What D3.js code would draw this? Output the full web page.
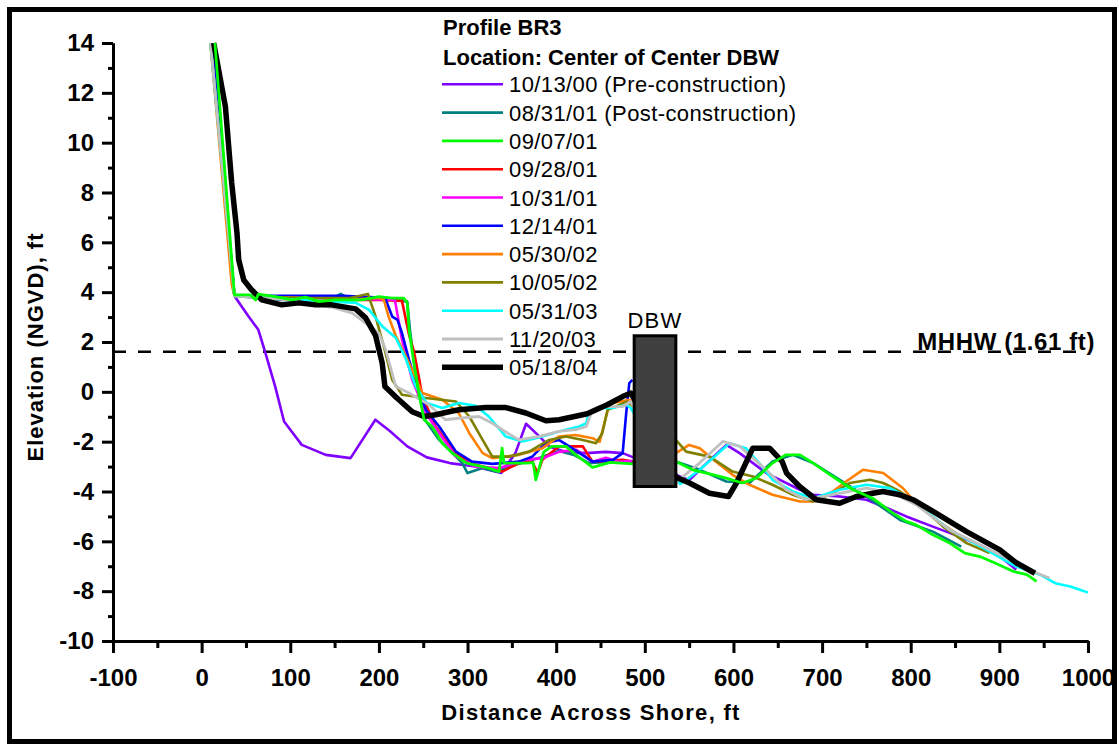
<!DOCTYPE html>
<html>
<head>
<meta charset="utf-8">
<script src="https://cdn.jsdelivr.net/npm/d3@7"></script>
<style>
  html, body { margin: 0; padding: 0; background: #fff; }
  svg { display: block; font-family: "Liberation Sans", Arial, Helvetica, sans-serif; }
</style>
</head>
<body>
<svg id="chart" width="1119" height="746"></svg>
<script>
// ---- Profile BR3 survey data (distance across shore ft, elevation ft NGVD) ----
const surveyDates = [
  "10/13/00 (Pre-construction)",
  "08/31/01 (Post-construction)",
  "09/07/01",
  "09/28/01",
  "10/31/01",
  "12/14/01",
  "05/30/02",
  "10/05/02",
  "05/31/03",
  "11/20/03",
  "05/18/04"
];

const xTicks = [-100, 0, 100, 200, 300, 400, 500, 600, 700, 800, 900, 1000];
const yTicks = [-10, -8, -6, -4, -2, 0, 2, 4, 6, 8, 10, 12, 14];
const mhhwElevation = 1.61;
const dbwDistance = [488, 535];
const dbwElevation = [-3.8, 2.25];

const p101300 = [[12,14],[37,3.85],[53,3.02],[64,2.49],[72,1.55],[83,0.21],[93,-1.19],[113,-2.13],[140,-2.53],[168,-2.66],[196,-1.12],[212,-1.56],[232,-2.19],[254,-2.63],[280,-2.86],[309,-3.0],[338,-3.26],[354,-2.46],[366,-1.28],[381,-1.79],[392,-2.19],[411,-2.41],[434,-2.46],[456,-2.41],[475,-2.46],[485,-2.6],[550,-3.55],[562,-3.13],[576,-2.65],[592,-2.13],[607,-2.46],[637,-3.26],[675,-3.93],[690,-4.13],[720,-4.2],[750,-4.33],[769,-4.6],[795,-5.0],[825,-5.41],[855,-5.81],[882,-6.21],[901,-6.61],[919,-7.14]];

const p083101 = [[12,14],[37,3.85],[90,3.69],[144,3.69],[157,3.93],[168,3.69],[215,3.73],[232,3.62],[235,2.49],[240,1.08],[245,0.0],[252,-1.12],[268,-1.93],[285,-2.53],[294,-2.86],[300,-3.26],[317,-3.06],[332,-3.2],[354,-2.93],[381,-2.65],[403,-2.37],[420,-2.53],[437,-2.86],[460,-2.8],[485,-2.8],[535,-2.8],[562,-3.13],[592,-3.6],[618,-3.66],[644,-2.8],[667,-2.53],[690,-2.86],[720,-3.53],[750,-4.2],[788,-5.14],[825,-5.61],[857,-6.21]];

const p090701 = [[15,14],[37,3.89],[55,3.89],[61,3.69],[64,3.92],[83,3.82],[102,3.69],[117,3.8],[132,3.62],[151,3.69],[181,3.69],[200,3.82],[215,3.76],[228,3.76],[232,3.57],[234,2.49],[239.5,1.15],[245,-0.05],[251,-1.12],[260,-1.39],[271.5,-2.06],[283,-2.46],[299,-2.86],[324,-3.06],[335.6,-3.2],[339,-2.26],[341,-2.86],[366,-2.86],[374,-2.84],[377,-3.53],[386,-2.41],[395,-2.19],[411,-2.19],[421,-2.49],[441,-3.03],[461,-2.83],[486,-2.89],[535,-2.8],[554,-3.13],[573,-3.29],[592,-3.46],[610,-3.66],[626,-3.46],[644,-2.86],[659,-2.53],[675,-2.53],[690,-2.86],[712,-3.4],[735,-3.93],[757,-4.27],[780,-4.87],[795,-5.2],[806,-5.34],[825,-5.74],[844,-6.07],[861,-6.47],[878,-6.61],[895,-6.87],[916,-7.21],[931,-7.34],[942,-7.61]];

const p092801 = [[12,14],[37,3.85],[87,3.77],[143,3.69],[200,3.69],[226,3.65],[234,2.29],[239.5,1.62],[245,0.61],[249,-0.19],[264,-1.39],[283,-2.33],[302,-2.86],[324,-3.06],[339,-3.2],[358,-2.86],[373,-2.8],[379,-3.26],[384.5,-2.73],[403,-2.19],[430,-2.19],[441,-2.8],[475,-2.73],[486,-2.8]];

const p103101 = [[12,14],[37,3.85],[110,3.69],[177,3.73],[218,3.69],[222.6,2.77],[226,2.09],[237.6,0.48],[253,-0.85],[268,-1.66],[287,-2.6],[309,-3.0],[336,-3.06],[366,-2.73],[386,-2.65],[403,-2.41],[423,-2.33],[441,-2.81],[456,-2.65],[471,-2.81],[486,-2.77]];

const p121401 = [[12,14],[37,3.85],[98,3.85],[128,3.85],[160,3.85],[207,3.77],[215,3.02],[221,2.89],[226,2.36],[234,1.28],[243,0.21],[253,-0.72],[268,-1.39],[287,-2.4],[305,-2.8],[328,-2.89],[358,-2.8],[373,-2.6],[388,-2.06],[403,-1.93],[418,-2.26],[441,-2.8],[464,-2.73],[475,-2.46],[479,-0.85],[482.5,0.35],[486,0.48]];

const p053002 = [[10,14],[34,4.3],[37,3.85],[110,3.77],[166,3.69],[200,3.77],[205.6,3.69],[211,3.01],[219,2.25],[234,1.15],[249,-0.05],[271.5,-0.32],[290,-0.85],[302,-1.66],[317,-2.46],[328,-2.66],[358,-2.53],[384.5,-2.26],[403,-1.79],[422,-1.73],[441,-1.86],[449,-2.01],[460,-0.48],[482.5,-0.32],[535,-2.46],[550,-2.13],[562,-2.26],[580,-2.8],[599,-3.33],[618,-3.73],[644,-4.13],[675,-4.4],[690,-4.4],[712,-4.0],[727,-3.6],[746,-3.13],[769,-3.26],[791,-3.86],[806,-4.47],[829,-5.14],[859,-5.87]];

const p100502 = [[10,14],[37,3.85],[110,3.77],[166,3.76],[187.6,3.93],[196,3.05],[205.6,1.82],[215,0.48],[226,-0.12],[253,-0.25],[287,-0.39],[302,-0.99],[317,-1.93],[328,-2.6],[347,-2.6],[369.5,-2.4],[392,-1.93],[411,-1.79],[430,-1.93],[445,-2.06],[452,-1.66],[458,-0.72],[467.5,-0.59],[480,-0.39],[535,-1.93],[546.6,-2.4],[573,-2.6],[599,-3.2],[622,-3.4],[644,-3.73],[667,-4.13],[690,-4.4],[712,-4.07],[731,-3.66],[754,-3.53],[769,-3.66],[788,-4.0],[814,-4.67],[836.5,-5.41],[863,-6.07],[889,-6.47]];

const p053103 = [[10,14],[37,3.85],[110,3.69],[155,3.61],[174,3.57],[189,3.29],[204,2.62],[219,2.17],[230,1.36],[241.5,0.21],[254,-0.45],[271.5,-0.65],[290,-0.45],[309,-0.56],[324,-0.99],[343,-1.79],[362,-1.99],[384.5,-1.79],[403,-1.59],[426,-1.39],[434,-1.26],[437,-0.79],[449,-0.65],[464,-0.65],[479,-0.52],[484,-0.65],[540,-3.7],[547,-3.53],[562,-3.13],[595.5,-2.06],[614,-2.26],[629,-2.86],[644,-3.53],[667,-4.0],[690,-4.27],[720,-3.93],[750,-3.73],[776,-3.86],[795,-4.2],[818,-4.8],[844,-5.54],[882,-6.27],[919,-7.01],[946,-7.34],[963,-7.68],[980,-7.81],[1000,-8.05]];

const p112003 = [[10,14],[37,3.85],[98,3.69],[132,3.49],[151,3.36],[170,3.16],[185,2.76],[200,2.36],[207.6,1.69],[219,0.21],[234,-0.05],[256.5,-0.52],[275,-1.12],[290,-1.06],[313,-0.99],[328,-1.26],[339,-1.52],[358,-1.93],[381,-1.79],[403,-1.59],[422,-1.52],[434,-1.39],[441,-0.72],[449,-0.59],[475,-0.59],[484,-0.39],[536,-3.6],[543,-3.4],[562,-2.85],[588,-1.99],[607,-2.19],[637,-3.13],[659.5,-3.93],[682,-4.33],[712,-4.13],[750,-3.86],[780,-4.07],[806,-4.53],[844,-5.54],[882,-6.21],[919,-6.87],[938,-7.21],[957,-7.48]];

const p051804 = [[13.6,14],[26.8,11.45],[33.9,8.39],[39.9,6.37],[41.8,5.3],[47.5,4.49],[56.5,4.09],[67.8,3.69],[90.4,3.49],[109.6,3.57],[128.5,3.49],[146.9,3.49],[173.7,3.33],[185,2.97],[196.3,2.25],[203.7,1.15],[206.8,0.21],[220.3,-0.25],[237.6,-0.8],[250.8,-0.99],[264,-0.92],[279,-0.8],[290.4,-0.72],[320.6,-0.63],[343.2,-0.63],[365.8,-0.85],[388.4,-1.16],[403.4,-1.12],[435,-0.88],[457.6,-0.52],[474.9,-0.19],[484.4,-0.05],[535.3,-3.43],[550.3,-3.66],[572.9,-4.07],[594.4,-4.2],[603.4,-3.66],[621.8,-2.26],[640.7,-2.26],[654.8,-2.79],[659.9,-3.26],[674.6,-3.8],[693.4,-4.33],[719.8,-4.47],[738.6,-4.2],[757.4,-4.07],[768.7,-4.0],[787.6,-4.13],[802.6,-4.33],[825.2,-4.8],[862.9,-5.61],[900.6,-6.34],[919.4,-6.87],[940.1,-7.28]];

// series in legend order
const profiles = [p101300, p083101, p090701, p092801, p103101, p121401, p053002, p100502, p053103, p112003, p051804];

// ---- styling ----
const lineColors = ["#8000FF", "#008080", "#00FF00", "#FF0000", "#FF00FF", "#0000FF", "#FF8000", "#808000", "#00FFFF", "#C0C0C0", "#000000"];
const lineWidths = [2.6, 2.6, 2.8, 2.6, 2.6, 2.6, 2.6, 2.6, 2.6, 2.8, 5.5];
// draw order: green ends up on top
const drawOrder = [0, 1, 3, 4, 5, 6, 7, 8, 9, 10, 2];

const svg = d3.select("#chart");

// outer frame
svg.append("rect")
  .attr("x", 9.5).attr("y", 9.5)
  .attr("width", 1105).attr("height", 732)
  .attr("fill", "#fff").attr("stroke", "#000").attr("stroke-width", 5);

const x = d3.scaleLinear().domain([-100, 1000]).range([113, 1088]);
const y = d3.scaleLinear().domain([-10, 14]).range([641, 43]);

// MHHW reference line
svg.append("line")
  .attr("x1", x(-100)).attr("x2", x(1000))
  .attr("y1", y(mhhwElevation)).attr("y2", y(mhhwElevation))
  .attr("stroke", "#000").attr("stroke-width", 2.6)
  .attr("stroke-dasharray", "13,12");

// profile lines
const line = d3.line().x(d => x(d[0])).y(d => y(d[1]));
const gLines = svg.append("g").attr("fill", "none")
  .attr("stroke-linejoin", "round").attr("stroke-linecap", "butt");
drawOrder.forEach(i => {
  gLines.append("path")
    .datum(profiles[i])
    .attr("d", line)
    .attr("stroke", lineColors[i])
    .attr("stroke-width", lineWidths[i]);
});

// detached breakwater block
svg.append("rect")
  .attr("x", x(dbwDistance[0])).attr("y", y(dbwElevation[1]))
  .attr("width", x(dbwDistance[1]) - x(dbwDistance[0]))
  .attr("height", y(dbwElevation[0]) - y(dbwElevation[1]))
  .attr("fill", "#404040").attr("stroke", "#000").attr("stroke-width", 3);
svg.append("text")
  .attr("x", (x(dbwDistance[0]) + x(dbwDistance[1])) / 2)
  .attr("y", y(dbwElevation[1]) - 8)
  .attr("text-anchor", "middle")
  .attr("font-size", 22).attr("letter-spacing", 1.2)
  .text("DBW");

// MHHW label
svg.append("text")
  .attr("x", 1095).attr("y", 350)
  .attr("text-anchor", "end")
  .attr("font-size", 24).attr("font-weight", "bold")
  .attr("letter-spacing", 0.6)
  .text("MHHW (1.61 ft)");

// ---- axes ----
function styleAxis(g) {
  g.select(".domain").attr("stroke", "#000").attr("stroke-width", 3);
  g.selectAll(".tick line").attr("stroke", "#000").attr("stroke-width", 3);
  g.selectAll("text").attr("fill", "#000")
    .attr("font-family", "'Liberation Sans', Arial, sans-serif")
    .attr("font-size", 24).attr("font-weight", "bold");
}

const xMinor = d3.range(-50, 1000, 100);
const yMinor = d3.range(-9, 14, 2);

svg.append("g").attr("transform", `translate(0,${y(-10)})`)
  .call(d3.axisBottom(x).tickValues(xMinor).tickSize(7).tickSizeOuter(0).tickFormat(""))
  .call(styleAxis);
svg.append("g").attr("transform", `translate(${x(-100)},0)`)
  .call(d3.axisLeft(y).tickValues(yMinor).tickSize(5).tickSizeOuter(0).tickFormat(""))
  .call(styleAxis);

svg.append("g").attr("transform", `translate(0,${y(-10)})`)
  .call(d3.axisBottom(x).tickValues(xTicks).tickSize(12).tickSizeOuter(0).tickPadding(16).tickFormat(d3.format("d")))
  .call(styleAxis)
  .call(g => g.selectAll("text").text(d => String(d).replace("\u2212", "-")));
svg.append("g").attr("transform", `translate(${x(-100)},0)`)
  .call(d3.axisLeft(y).tickValues(yTicks).tickSize(11).tickSizeOuter(0).tickPadding(8))
  .call(styleAxis)
  .call(g => g.selectAll("text").text(d => String(d)));

// axis titles
svg.append("text")
  .attr("x", 591).attr("y", 720)
  .attr("text-anchor", "middle")
  .attr("font-size", 22).attr("font-weight", "bold").attr("letter-spacing", 1.3)
  .text("Distance Across Shore, ft");
svg.append("text")
  .attr("transform", "translate(43,347) rotate(-90)")
  .attr("text-anchor", "middle")
  .attr("font-size", 22).attr("font-weight", "bold").attr("letter-spacing", 1)
  .text("Elevation (NGVD), ft");

// ---- legend ----
const legend = svg.append("g");
legend.append("text")
  .attr("x", 443).attr("y", 35)
  .attr("font-size", 22).attr("font-weight", "bold")
  .text("Profile BR3");
legend.append("text")
  .attr("x", 443).attr("y", 65)
  .attr("font-size", 22).attr("font-weight", "bold")
  .text("Location: Center of Center DBW");

surveyDates.forEach((label, i) => {
  const ly = 84.3 + i * 28.3;
  legend.append("line")
    .attr("x1", 442).attr("x2", 503)
    .attr("y1", ly).attr("y2", ly)
    .attr("stroke", lineColors[i]).attr("stroke-width", lineWidths[i]);
  legend.append("text")
    .attr("x", 509).attr("y", ly + 8)
    .attr("font-size", 22).attr("letter-spacing", 0.4)
    .text(label);
});
</script>
</body>
</html>
